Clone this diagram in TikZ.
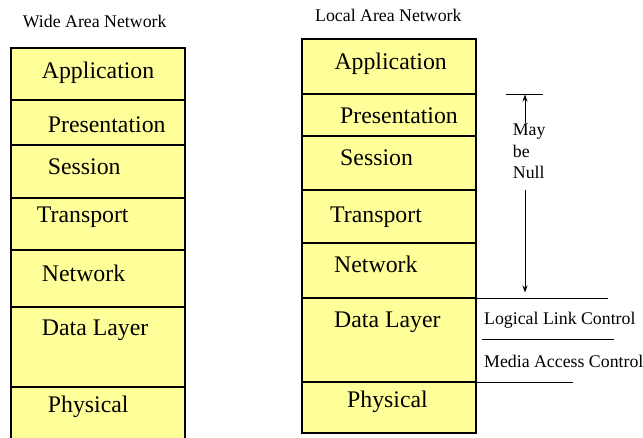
\documentclass[tikz,border=0pt]{standalone}
\usepackage{fontspec}
\setmainfont{Liberation Serif}
\usetikzlibrary{arrows.meta}
\definecolor{layerfill}{RGB}{255,255,153}
\tikzset{
  layer/.style={draw=black, line width=2pt, fill=layerfill},
  frame/.style={draw=black, line width=2.8pt},
  big/.style={anchor=base west, inner sep=0pt, font=\fontsize{23.8}{28}\selectfont},
  small/.style={anchor=base west, inner sep=0pt, font=\fontsize{17.8}{21}\selectfont},
  thinrule/.style={draw=black, line width=0.9pt},
  span/.style={draw=black, line width=0.9pt, -{Stealth[length=7pt,width=5pt]}},
}
\begin{document}
\begin{tikzpicture}[x=1pt,y=-1pt]
\useasboundingbox (0,0) rectangle (643,438);
\clip (0,0) rectangle (643,438);

% ---- Wide Area Network stack ----
\foreach \top/\bot in {48/100,100/145,145/198,198/250,250/307,307/387,387/450}
  \draw[layer] (11,\top) rectangle (185,\bot);
\draw[frame] (11,48) rectangle (185,450);

\node[small] (wtitle) at (22.7,28) {Wide Area Network};
\node[big] (wapp)  at (41.7,79)  {Application};
\node[big] (wpres) at (47.7,133) {Presentation};
\node[big] (wsess) at (47.7,175) {Session};
\node[big] (wtran) at (36.7,223) {Transport};
\node[big] (wnet)  at (41.7,282) {Network};
\node[big] (wdata) at (41.7,336) {Data Layer};
\node[big] (wphys) at (47.7,413) {Physical};

% ---- Local Area Network stack ----
\foreach \top/\bot in {39/94,94/136,136/190,190/243,243/298,298/382,382/433}
  \draw[layer] (302,\top) rectangle (476,\bot);
\draw[frame] (302,39) rectangle (476,433);

\node[small] (ltitle) at (315,21.7) {Local Area Network};
\node[big] (lapp)  at (334.3,70) {Application};
\node[big] (lpres) at (340,124)  {Presentation};
\node[big] (lsess) at (340,166)  {Session};
\node[big] (ltran) at (330,222.7){Transport};
\node[big] (lnet)  at (334,273)  {Network};
\node[big] (ldata) at (334,328)  {Data Layer};
\node[big] (lphys) at (347,407)  {Physical};

% ---- "May be Null" span ----
\coordinate (nulltopL) at (506,94);
\coordinate (nulltopR) at (543,94);
\draw[thinrule] (nulltopL) -- (nulltopR);
\node[small] (may)  at (512.7,136) {May};
\node[small] (be)   at (512.7,158) {be};
\node[small] (null) at (512.7,179) {Null};
\coordinate (spanA) at (525,123);
\coordinate (spanB) at (525,94.5);
\coordinate (spanC) at (525,190);
\coordinate (spanD) at (525,292.5);
\draw[span] (spanA) -- (spanB);
\draw[span] (spanC) -- (spanD);

% ---- Data layer sublayers ----
\coordinate (llcTopL) at (476,298);
\coordinate (llcTopR) at (608,298);
\coordinate (macTopL) at (482,339);
\coordinate (macTopR) at (614,339);
\coordinate (macBotL) at (476,382);
\coordinate (macBotR) at (573,382);
\draw[thinrule] (llcTopL) -- (llcTopR);
\draw[thinrule] (macTopL) -- (macTopR);
\draw[thinrule] (macBotL) -- (macBotR);
\node[small] (llc) at (484,325) {Logical Link Control};
\node[small] (mac) at (484,368) {Media Access Control};
\end{tikzpicture}
\end{document}
